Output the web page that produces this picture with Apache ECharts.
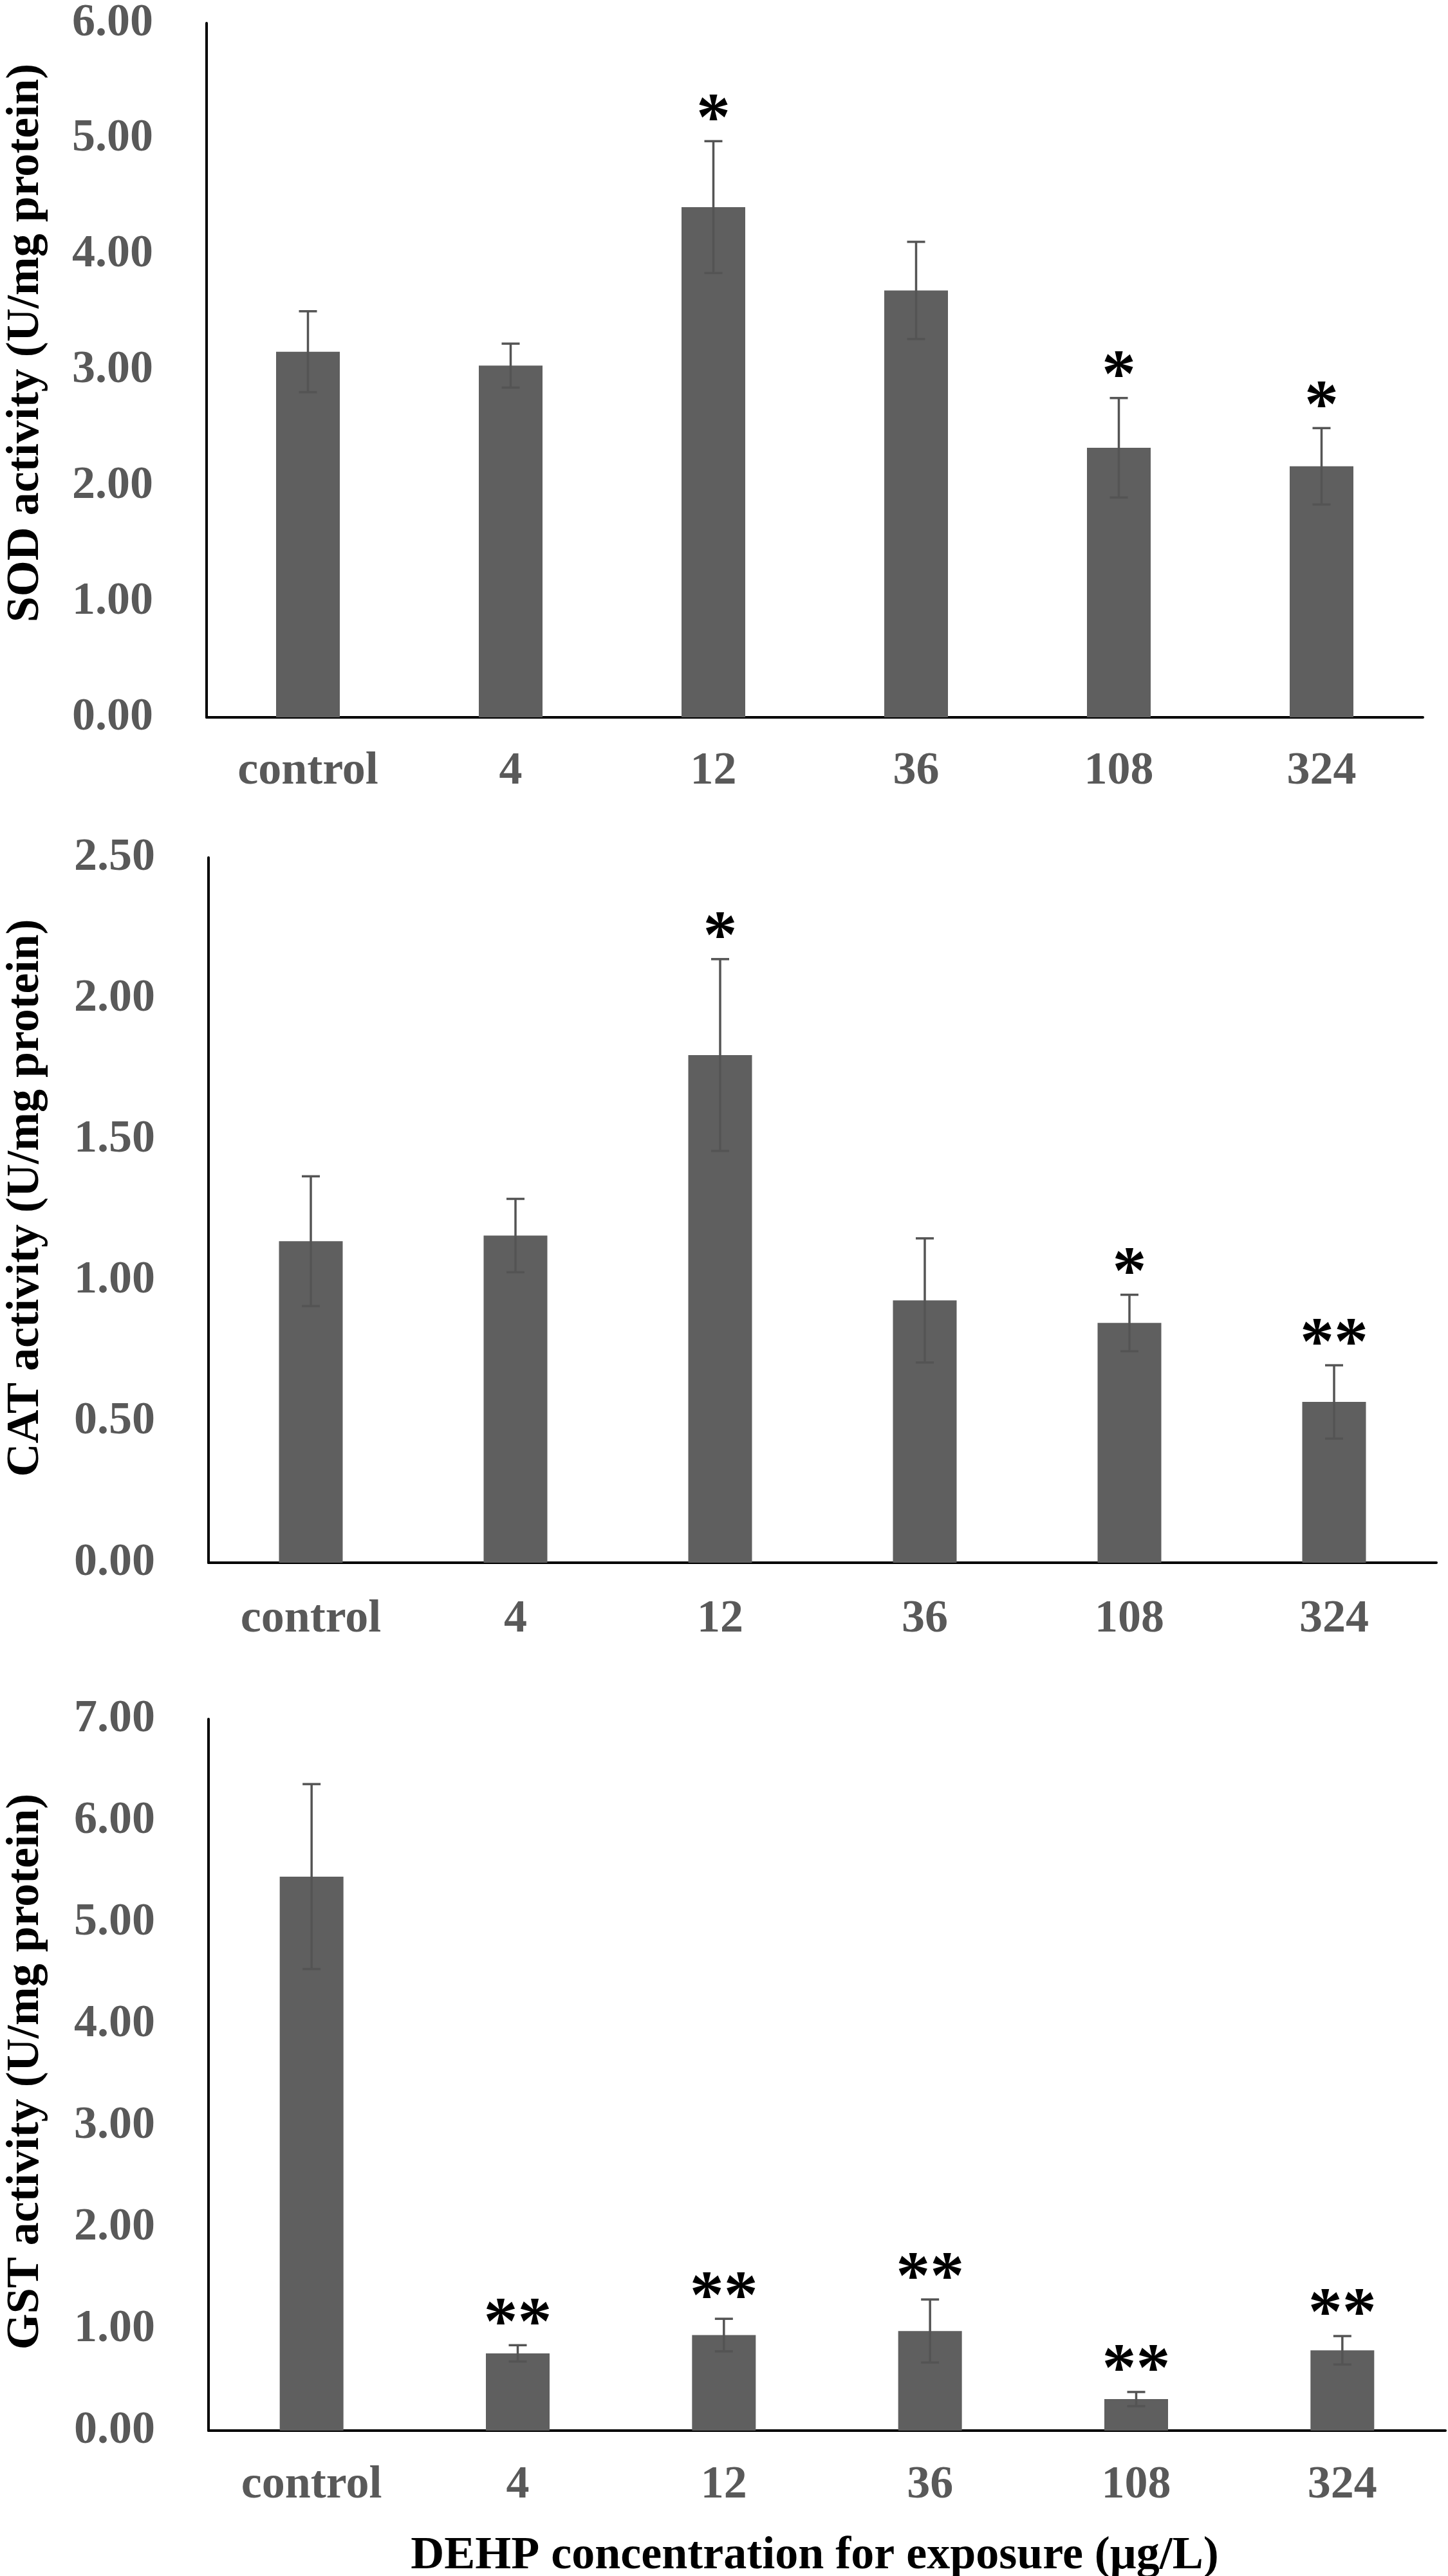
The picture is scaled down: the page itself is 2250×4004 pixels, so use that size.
<!DOCTYPE html>
<html>
<head>
<meta charset="utf-8">
<script src="https://cdn.jsdelivr.net/npm/echarts@6/dist/echarts.min.js"></script>
<style>
html,body{margin:0;padding:0;background:#fff;}
#c{width:2250px;height:4004px;}
</style>
</head>
<body>
<div id="c"></div>
<script>
// ---- data ----
var categories = ['control', '4', '12', '36', '108', '324'];

var sodMean = [3.16, 3.04, 4.41, 3.69, 2.33, 2.17];
var sodSd   = [0.35, 0.19, 0.57, 0.42, 0.43, 0.33];
var sodSig  = ['', '', '*', '', '*', '*'];

var catMean = [1.14, 1.16, 1.80, 0.93, 0.85, 0.57];
var catSd   = [0.23, 0.13, 0.34, 0.22, 0.10, 0.13];
var catSig  = ['', '', '*', '', '*', '**'];

var gstMean = [5.45, 0.76, 0.94, 0.98, 0.31, 0.79];
var gstSd   = [0.91, 0.08, 0.16, 0.31, 0.07, 0.14];
var gstSig  = ['', '**', '**', '**', '**', '**'];

var yTitles = ['SOD activity (U/mg protein)', 'CAT activity (U/mg protein)', 'GST activity (U/mg protein)'];
var xTitle = 'DEHP concentration for exposure (\u03bcg/L)';
var yMax = [6, 2.5, 7];
var yInterval = [1, 0.5, 1];

// ---- layout / style ----
var FONT = '"Liberation Serif", "Times New Roman", serif';
var grids = [
  {left: 321, top: 31, width: 1890, height: 1084},
  {left: 324, top: 1333, width: 1908, height: 1096},
  {left: 324, top: 2672, width: 1922, height: 1106}
];
var titleY = [533, 1862, 3220];
var labelMargin = [48, 52, 49];
var means = [sodMean, catMean, gstMean];
var sds = [sodSd, catSd, gstSd];
var sigs = [sodSig, catSig, gstSig];

var chart = echarts.init(document.getElementById('c'), null, {renderer: 'canvas'});

var xAxes = [], yAxes = [], series = [], graphics = [];
for (var i = 0; i < 3; i++) {
  xAxes.push({
    type: 'category', gridIndex: i, data: categories,
    axisLine: {show: true, lineStyle: {color: '#000', width: 4}},
    axisTick: {show: false},
    axisLabel: {color: '#595959', fontFamily: FONT, fontWeight: 'bold', fontSize: 72, margin: labelMargin[i], interval: 0}
  });
  yAxes.push({
    type: 'value', gridIndex: i, min: 0, max: yMax[i], interval: yInterval[i],
    axisLine: {show: true, lineStyle: {color: '#000', width: 4}},
    axisTick: {show: false},
    splitLine: {show: false},
    axisLabel: {color: '#595959', fontFamily: FONT, fontWeight: 'bold', fontSize: 72, margin: 83,
      formatter: function (v) { return v.toFixed(2); }}
  });
  series.push({
    type: 'bar', xAxisIndex: i, yAxisIndex: i, data: means[i], barWidth: 99,
    itemStyle: {color: '#5f5f5f'}, silent: true, animation: false
  });
  (function (k) {
    var errData = means[k].map(function (m, j) { return [j, m, sds[k][j]]; });
    series.push({
      type: 'custom', xAxisIndex: k, yAxisIndex: k, data: errData, z: 5, animation: false, silent: true,
      renderItem: function (params, api) {
        var x = api.value(0), m = api.value(1), s = api.value(2);
        var pTop = api.coord([x, m + s]);
        var pBot = api.coord([x, m - s]);
        var cx = pTop[0];
        var cap = 14;
        var st = {stroke: '#545454', lineWidth: 3.5};
        var children = [
          {type: 'line', shape: {x1: cx, y1: pTop[1], x2: cx, y2: pBot[1]}, style: st},
          {type: 'line', shape: {x1: cx - cap, y1: pTop[1], x2: cx + cap, y2: pTop[1]}, style: st},
          {type: 'line', shape: {x1: cx - cap, y1: pBot[1], x2: cx + cap, y2: pBot[1]}, style: st}
        ];
        var sig = sigs[k][params.dataIndex];
        if (sig) {
          children.push({type: 'text', x: cx, y: pTop[1] - 30,
            style: {text: sig, fill: '#000', font: 'bold 106px ' + FONT, align: 'center', verticalAlign: 'middle'}});
        }
        return {type: 'group', children: children};
      }
    });
  })(i);
  graphics.push({
    type: 'text', x: 40, y: titleY[i], rotation: Math.PI / 2,
    style: {text: yTitles[i], fill: '#000', font: 'bold 72px ' + FONT, align: 'center', verticalAlign: 'middle'}
  });
}
graphics.push({
  type: 'text', x: 1266, y: 3973,
  style: {text: xTitle, fill: '#000', font: 'bold 72px ' + FONT, align: 'center', verticalAlign: 'middle'}
});

chart.setOption({
  animation: false,
  backgroundColor: '#fff',
  grid: grids,
  xAxis: xAxes,
  yAxis: yAxes,
  series: series,
  graphic: graphics
});
</script>
</body>
</html>
